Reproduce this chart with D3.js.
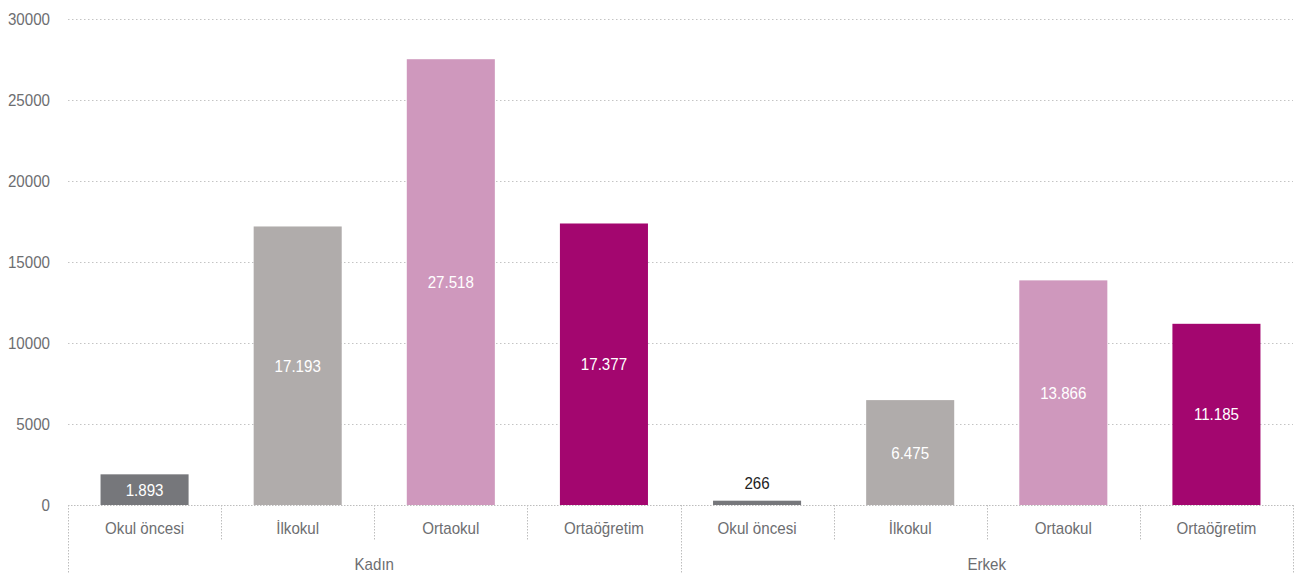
<!DOCTYPE html>
<html><head><meta charset="utf-8">
<script src="https://cdn.jsdelivr.net/npm/d3@7"></script>
<style>
body{margin:0;background:#fff;}
text{font-family:"Liberation Sans",Arial,sans-serif;}
</style></head>
<body><svg id="c" width="1296" height="574"></svg>
<script>
const groups = ["Kadın","Erkek"];
const levels = ["Okul öncesi","İlkokul","Ortaokul","Ortaöğretim"];
const kadin = [1893, 17193, 27518, 17377];
const erkek = [266, 6475, 13866, 11185];
const yTicks = [0,5000,10000,15000,20000,25000,30000];
const colors = ["#76777b","#b0acab","#cf98bd","#a3066f"];

const svg = d3.select("#c");
const L=68, R=1293, T=19, B=505, SX=0.89;
const data = [];
groups.forEach((g,gi)=>{
  const vals = gi===0?kadin:erkek;
  levels.forEach((l,li)=>data.push({g,l,li,key:g+"|"+l,v:vals[li]}));
});
const x = d3.scaleBand().domain(data.map(d=>d.key)).range([L,R]).paddingInner(0.425).paddingOuter(0.2125);
const xs = d3.scaleBand().domain(data.map(d=>d.key)).range([L,R]);
const y = d3.scaleLinear().domain([0,30000]).range([B,T]);
const fmt = v => d3.format(",")(v).replace(/,/g,".");
const place = (sel, fx, fy) => sel.attr("transform", (d,i)=>`translate(${fx(d,i)},${fy(d,i)}) scale(${SX},1)`);

// gridlines
svg.append("g").selectAll("line").data(yTicks.filter(t=>t>0)).join("line")
  .attr("x1",L).attr("x2",R).attr("y1",d=>Math.round(y(d))+0.5).attr("y2",d=>Math.round(y(d))+0.5)
  .attr("stroke","#c4c4c4").attr("stroke-width",1).attr("stroke-dasharray","1.5,2.5");
// y labels
place(svg.append("g").selectAll("text").data(yTicks).join("text")
  .attr("dy","0.35em").attr("text-anchor","end")
  .attr("fill","#6d6e71").attr("font-size",17).text(d=>d), ()=>50, d=>y(d));

// bars
svg.append("g").selectAll("rect").data(data).join("rect")
  .attr("x",d=>x(d.key)).attr("width",x.bandwidth())
  .attr("y",d=>y(d.v)).attr("height",d=>B-y(d.v))
  .attr("fill",d=>colors[d.li]);

// value labels
place(svg.append("g").selectAll("text").data(data).join("text")
  .attr("dy","0.35em").attr("text-anchor","middle").attr("font-size",17)
  .attr("fill",d=> (B-y(d.v))<20 ? "#222" : "#fff")
  .text(d=>fmt(d.v)),
  d=>x(d.key)+x.bandwidth()/2,
  d=> (B-y(d.v))<20 ? y(d.v)-18 : (y(d.v)+B)/2);

// bottom axis line
svg.append("line").attr("x1",L).attr("x2",R).attr("y1",B+0.5).attr("y2",B+0.5)
  .attr("stroke","#bdbdbd").attr("stroke-dasharray","1.5,1.5");
// separators
const sep = svg.append("g");
data.forEach((d,i)=>{
  if(i===0) return;
  const xx = Math.round(xs(d.key))+0.5;
  const isGroup = d.li===0;
  sep.append("line").attr("x1",xx).attr("x2",xx).attr("y1",B).attr("y2",isGroup?574:540)
    .attr("stroke","#bdbdbd").attr("stroke-dasharray","1.5,1.5");
});
[L, R].forEach(xx=>{
  sep.append("line").attr("x1",xx+0.5).attr("x2",xx+0.5).attr("y1",B).attr("y2",574)
    .attr("stroke","#bdbdbd").attr("stroke-dasharray","1.5,1.5");
});
// category labels
place(svg.append("g").selectAll("text").data(data).join("text")
  .attr("dy","0.35em").attr("text-anchor","middle").attr("fill","#6d6e71").attr("font-size",17).text(d=>d.l),
  d=>xs(d.key)+xs.bandwidth()/2, ()=>528);
// group labels
place(svg.append("g").selectAll("text").data(groups).join("text")
  .attr("dy","0.35em").attr("text-anchor","middle").attr("fill","#6d6e71").attr("font-size",17).text(g=>g),
  g=>{const ks=data.filter(d=>d.g===g).map(d=>d.key);return (xs(ks[0])+xs(ks[ks.length-1])+xs.bandwidth())/2;},
  ()=>564);
</script></body></html>
